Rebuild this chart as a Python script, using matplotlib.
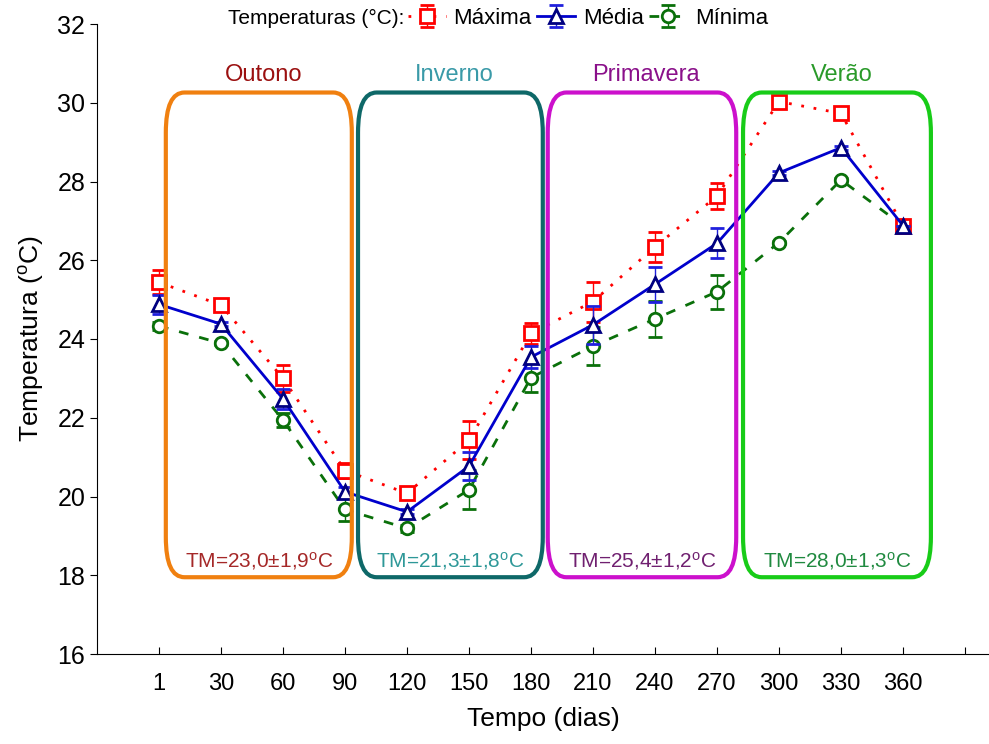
import matplotlib
matplotlib.use('Agg')
import matplotlib.pyplot as plt
from matplotlib.patches import FancyBboxPatch
from matplotlib import font_manager
import numpy as np

# dados
dias = ['1', '30', '60', '90', '120', '150', '180', '210', '240', '270', '300', '330', '360']
maxima = [25.44, 24.86, 23.0, 20.66, 20.08, 21.43, 24.14, 24.95, 26.34, 27.63, 30.03, 29.73, 26.88]
maxima_err = [0.3, 0.05, 0.34, 0.2, 0.15, 0.49, 0.26, 0.51, 0.38, 0.33, 0.05, 0.05, 0.0]
media = [24.88, 24.38, 22.48, 20.12, 19.61, 20.77, 23.54, 24.36, 25.39, 26.43, 28.22, 28.86, 26.88]
media_err = [0.24, 0.05, 0.25, 0.12, 0.06, 0.35, 0.27, 0.48, 0.44, 0.38, 0.05, 0.05, 0.0]
minima = [24.33, 23.89, 21.94, 19.67, 19.19, 20.17, 23.02, 23.82, 24.51, 25.2, 26.45, 28.04, 26.88]
minima_err = [0.1, 0.05, 0.18, 0.28, 0.08, 0.5, 0.37, 0.48, 0.45, 0.43, 0.04, 0.04, 0.0]

estacoes = ['Outono', 'Inverno', 'Primavera', 'Verão']
estacao_ini = [0.11, 3.21, 6.27, 9.42]
estacao_fim = [3.11, 6.19, 9.31, 12.45]
tm_textos = ['TM=23,0±1,9$\\mathregular{^o}$C', 'TM=21,3±1,8$\\mathregular{^o}$C',
             'TM=25,4±1,2$\\mathregular{^o}$C', 'TM=28,0±1,3$\\mathregular{^o}$C']
cor_caixa = ['#F08010', '#0E6868', '#CC10CC', '#18CC18']
cor_nome = ['#9B1010', '#3A9AA8', '#8A108A', '#2A9A2A']
cor_tm = ['#A52828', '#2E9898', '#702070', '#208A40']

names = [f.name for f in font_manager.fontManager.ttflist]
narrow = 'Liberation Sans Narrow' if 'Liberation Sans Narrow' in names else 'Liberation Sans'
plt.rcParams['font.family'] = [narrow, 'DejaVu Sans']

x = np.arange(len(dias))

fig = plt.figure(figsize=(9.89, 7.44), dpi=100)
ax = fig.add_axes([97 / 989, 90 / 744, 1 - 97 / 989, 630 / 744])

h_max = ax.errorbar(x, maxima, yerr=maxima_err, color='#FF0000', lw=2, ls=(0, (1, 3.5)),
                    marker='s', ms=10, mfc='white', mec='#FF0000', mew=2,
                    capsize=5, elinewidth=1, capthick=1, ecolor='#FF0000', zorder=3)
h_med = ax.errorbar(x, media, yerr=media_err, color='#0000CC', lw=2, ls='-',
                    marker='^', ms=10, mfc='white', mec='#000080', mew=2,
                    capsize=5, elinewidth=1, capthick=1, ecolor='#2020DD', zorder=4)
h_min = ax.errorbar(x, minima, yerr=minima_err, color='#0A700A', lw=2, ls=(0, (3.5, 4)),
                    marker='o', ms=9, mfc='white', mec='#0A700A', mew=2,
                    capsize=5, elinewidth=1, capthick=1, ecolor='#0A700A', zorder=2)

ax.set_xlim(-1, (989 - 159) / 62)
ax.set_ylim(16, 32)

# caixas das estacoes
for i in range(4):
    w = estacao_fim[i] - estacao_ini[i]
    box = FancyBboxPatch((estacao_ini[i], 17.95), w, 30.26 - 17.95,
                         boxstyle='round,pad=0,rounding_size=0.3', mutation_aspect=3.4,
                         fill=False, ec=cor_caixa[i], lw=3, zorder=5)
    ax.add_patch(box)
    cx = (estacao_ini[i] + estacao_fim[i]) / 2
    ax.text(cx + 0.07, 30.7, estacoes[i], color=cor_nome[i], fontsize=17,
            ha='center', va='center', family='Liberation Sans')
    ax.text(cx, 18.35, tm_textos[i], color=cor_tm[i], fontsize=15, ha='center', va='center')

ax.set_xticks(list(x) + [13])
ax.set_xticklabels(dias + [''], fontsize=17)
ax.tick_params(axis='x', direction='in', length=5, pad=14)
ax.set_yticks(np.arange(16, 33, 2))
ax.tick_params(axis='y', direction='out', length=5, labelsize=18)
for lab in ax.get_yticklabels():
    lab.set_family('Liberation Sans')
ax.spines['top'].set_visible(False)
ax.spines['right'].set_visible(False)

ax.set_xlabel('Tempo (dias)', fontsize=19, labelpad=8)
ax.set_ylabel('Temperatura ($\\mathregular{^o}$C)', fontsize=19, labelpad=8)

fig.text(228 / 989, 1 - 18 / 744, 'Temperaturas (°C):', fontsize=15, va='center', ha='left')
fig.legend([h_max, h_med, h_min], ['Máxima', 'Média', 'Mínima'], ncol=3, frameon=False,
           loc='center left', bbox_to_anchor=(408 / 989, 1 - 18 / 744), fontsize=16,
           handlelength=1.7, handletextpad=0.35, columnspacing=0.25, borderpad=0, borderaxespad=0)

fig.savefig('out.png', dpi=100)
